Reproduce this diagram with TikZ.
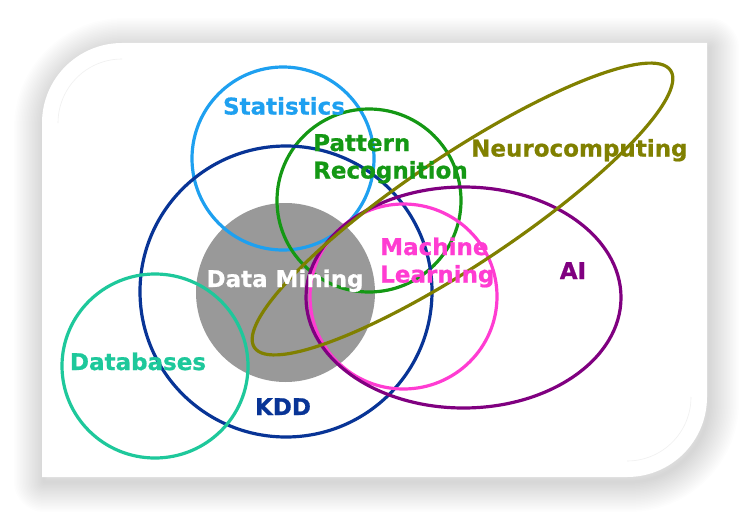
\documentclass[tikz,border=0pt]{standalone}
\usepackage{fontspec}
\setmainfont{DejaVu Sans}
\newfontfamily\lblfont[FakeBold=0.8]{DejaVu Sans Bold}
\usetikzlibrary{shapes.geometric}
\definecolor{cStat}{RGB}{30,160,240}
\definecolor{cPat}{RGB}{20,152,20}
\definecolor{cKDD}{RGB}{8,52,150}
\definecolor{cDB}{RGB}{30,200,155}
\definecolor{cML}{RGB}{255,60,210}
\definecolor{cAI}{RGB}{128,0,128}
\definecolor{cNeuro}{RGB}{128,128,0}
\definecolor{cDM}{RGB}{153,153,153}
\def\cardpath{(42,477) -- (42,123) .. controls (42,78.8) and (77.8,43) .. (122,43) -- (707,43) -- (707,397) .. controls (707,441.2) and (671.2,477) .. (627,477) -- cycle}
\begin{document}
\begin{tikzpicture}[x=1pt,y=-1pt,
  venn/.style={draw, ellipse, line width=3.2pt, inner sep=0pt, outer sep=0pt},
  lbl/.style={font=\lblfont\fontsize{23}{27}\selectfont, inner sep=0pt}]
\useasboundingbox (0,0) rectangle (749,519);
% card shadow
\foreach \w in {3,6,...,60} {
  \draw[black, opacity=0.0075, line width=\w pt, line join=round, shift={(2,5)}] \cardpath;
}
\fill[white] \cardpath;
\draw[gray!12, line width=0.6pt] (58,123) arc[start angle=180, end angle=270, radius=64];
\draw[gray!12, line width=0.6pt] (691,397) arc[start angle=0, end angle=90, radius=64];
% sets
\node[venn, draw=none, fill=cDM, minimum width=179, minimum height=179] (dm) at (285.5,292.5) {};
\node[venn, draw=cStat, minimum width=182, minimum height=183] (stat) at (283,158.5) {};
\node[venn, draw=cPat, minimum width=184, minimum height=183] (pat) at (369,200.5) {};
\node[venn, draw=cKDD, minimum width=292, minimum height=291] (kdd) at (286,291.5) {};
\node[venn, draw=cDB, minimum width=186, minimum height=184] (db) at (155,366) {};
\node[venn, draw=cML, minimum width=187, minimum height=185] (ml) at (403.5,296.5) {};
\node[venn, draw=cAI, minimum width=315, minimum height=221] (ai) at (463.5,297.5) {};
\node[venn, draw=cNeuro, minimum width=500, minimum height=110, rotate=33.65] (neuro) at (462.5,209) {};
% labels
\node[lbl, text=cStat, anchor=base] (tstat) at (284,114.5) {Statistics};
\node[lbl, text=cPat, anchor=base west] (tpat1) at (313,151) {Pattern};
\node[lbl, text=cPat, anchor=base west] (tpat2) at (313,178.5) {Recognition};
\node[lbl, text=cNeuro, anchor=base west] (tneuro) at (471,156.5) {Neurocomputing};
\node[lbl, text=cML, anchor=base west] (tml1) at (380,255) {Machine};
\node[lbl, text=cML, anchor=base west] (tml2) at (380,282.5) {Learning};
\node[lbl, text=cAI, anchor=base] (tai) at (573,279) {AI};
\node[lbl, text=white, anchor=base] (tdm) at (285,287) {Data Mining};
\node[lbl, text=cDB, anchor=base] (tdb) at (138,370) {Databases};
\node[lbl, text=cKDD, anchor=base] (tkdd) at (283,415) {KDD};
\end{tikzpicture}
\end{document}
